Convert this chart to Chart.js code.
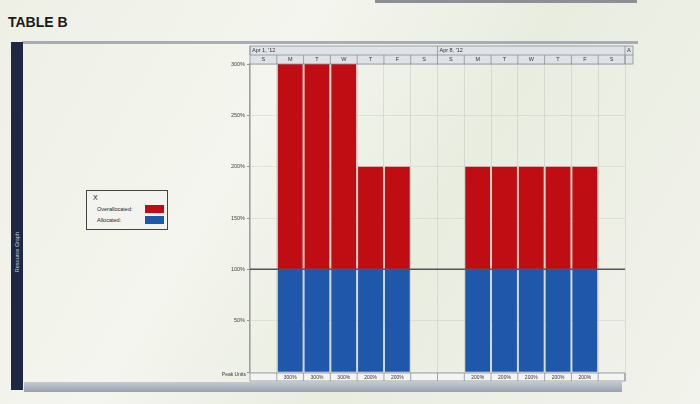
<!DOCTYPE html>
<html><head><meta charset="utf-8">
<script src="https://cdn.jsdelivr.net/npm/chart.js@4/dist/chart.umd.min.js"></script>
<style>
html,body{margin:0;padding:0;width:700px;height:404px;overflow:hidden;
 background:linear-gradient(120deg,#eef0e6 0%,#f4f5ee 35%,#e9ede0 60%,#f2f3ec 100%);font-family:"Liberation Sans",Arial,sans-serif;}
#title{position:absolute;left:8px;top:14px;font-family:"Liberation Sans Narrow","Liberation Sans",Arial;font-weight:bold;font-size:14px;color:#1a1a1a;}
#topbar{position:absolute;left:375px;top:0;width:262px;height:3px;background:#8c9096;}
#frame{position:absolute;left:22px;top:41px;width:616px;height:3px;background:#a9adb3;}
#navy{position:absolute;left:11px;top:42px;width:12px;height:348px;background:#1d2944;}
#navy span{position:absolute;left:6px;top:210px;transform:translate(-50%,-50%) rotate(-90deg);white-space:nowrap;color:#c9cfdb;font-size:5.5px;}
#scroll{position:absolute;left:24px;top:382px;width:598px;height:10px;background:linear-gradient(#c3c9d0,#9aa3ad);}
#legend{position:absolute;left:86px;top:190px;width:80px;height:38px;border:1.5px solid #444;background:#f3f4ef;font-size:5.5px;color:#222;}
#legend .x{position:absolute;left:6px;top:3px;font-size:7px;}
#legend .r{position:absolute;left:10px;white-space:nowrap;}
#legend .sw{position:absolute;left:58px;width:19px;height:8px;}
canvas{position:absolute;left:0;top:0;}
</style></head>
<body>
<div id="topbar"></div>
<div id="title">TABLE B</div>
<div id="frame"></div>
<div id="navy"><span>Resource Graph</span></div>
<div id="scroll"></div>
<div id="legend"><span class="x">X</span>
 <span class="r" style="top:15px">Overallocated:</span><span class="sw" style="top:14px;background:#c00d14"></span>
 <span class="r" style="top:26px">Allocated:</span><span class="sw" style="top:25px;background:#1f57ab"></span>
</div>
<canvas id="c" width="700" height="404"></canvas>
<script>
const days = ["S","M","T","W","T","F","S","S","M","T","W","T","F","S"];
const weeks = ["Apr 1, '12","Apr 8, '12"];
const allocated = [0,100,100,100,100,100,0,0,100,100,100,100,100,0];
const overallocated = [0,200,200,200,100,100,0,0,100,100,100,100,100,0];
const peakUnits = ["","300%","300%","300%","200%","200%","","","200%","200%","200%","200%","200%",""];
const yTicks = [0,50,100,150,200,250,300];
const maxUnits = 100;

const headerPlugin = {
  id:'header',
  afterDraw(chart){
    const ctx = chart.ctx, x = chart.scales.x, y = chart.scales.y, a = chart.chartArea;
    const n = days.length;
    const w = (x.getPixelForValue(1) - x.getPixelForValue(0));
    const left = a.left, right = a.right;
    ctx.save();
    const h1 = a.top-18, h2 = a.top-9;
    ctx.fillStyle = '#dfe3e8';
    ctx.fillRect(left, h1, right-left+8, 18);
    ctx.strokeStyle = '#8a9098'; ctx.lineWidth = 0.8;
    ctx.strokeRect(left, h1, right-left+8, 18);
    ctx.beginPath(); ctx.moveTo(left,h2); ctx.lineTo(right+8,h2); ctx.stroke();
    ctx.font = '5.5px "Liberation Sans", Arial'; ctx.fillStyle = '#333'; ctx.textBaseline='middle';
    for (let i=0;i<n;i++){
      const cx = x.getPixelForValue(i);
      ctx.textAlign='center';
      ctx.fillText(days[i], cx, h2+4.5);
      ctx.beginPath(); ctx.moveTo(cx+w/2, h2); ctx.lineTo(cx+w/2, a.top); ctx.stroke();
    }
    weeks.forEach((t,k)=>{
      const sx = x.getPixelForValue(k*7) - w/2;
      ctx.textAlign='left'; ctx.fillText(t, sx+2, h1+4.5);
      ctx.beginPath(); ctx.moveTo(sx, h1); ctx.lineTo(sx, h2); ctx.stroke();
    });
    ctx.beginPath(); ctx.moveTo(right, h1); ctx.lineTo(right, a.top); ctx.stroke();
    ctx.textAlign='left'; ctx.fillText('A', right+2, h1+4.5);
    const yl = y.getPixelForValue(maxUnits);
    ctx.strokeStyle = '#555'; ctx.lineWidth = 1.5;
    ctx.beginPath(); ctx.moveTo(left, yl); ctx.lineTo(right, yl); ctx.stroke();
    const py = a.bottom+1;
    ctx.fillStyle = '#f4f5f2';
    ctx.fillRect(left, py, right-left, 8);
    ctx.strokeStyle = '#8a9098'; ctx.lineWidth = 0.8;
    ctx.strokeRect(left, py, right-left, 8);
    ctx.fillStyle = '#333'; ctx.font = '5px "Liberation Sans", Arial';
    for (let i=0;i<n;i++){
      const cx = x.getPixelForValue(i);
      ctx.textAlign='center'; ctx.fillText(peakUnits[i], cx, py+4.5);
      ctx.beginPath(); ctx.moveTo(cx+w/2, py); ctx.lineTo(cx+w/2, py+8); ctx.stroke();
    }
    ctx.textAlign='right'; ctx.fillText('Peak Units', left-4, py+2);
    ctx.restore();
  }
};

new Chart(document.getElementById('c'), {
  type:'bar',
  data:{ labels: days.map((d,i)=>d+i),
    datasets:[
      {label:'Allocated', data: allocated, backgroundColor:'#1f57ab', barPercentage:1, categoryPercentage:0.93, stack:'s'},
      {label:'Overallocated', data: overallocated, backgroundColor:'#c00d14', barPercentage:1, categoryPercentage:0.93, stack:'s'}
    ]},
  options:{
    responsive:false, animation:false,
    layout:{padding:{left:200,top:64,right:75,bottom:32}},
    plugins:{legend:{display:false}, tooltip:{enabled:false}},
    scales:{
      x:{stacked:true, display:true, ticks:{display:false}, border:{display:false},
         grid:{offset:true, color:'rgba(150,155,150,0.35)', lineWidth:0.7, drawTicks:false}},
      y:{stacked:true, min:0, max:300,
         afterBuildTicks(s){ s.ticks = yTicks.map(v=>({value:v})); },
         afterFit(s){ s.width = 50; },
         border:{color:'#9aa0a8', width:1.5},
         grid:{color:'rgba(170,175,170,0.35)', lineWidth:0.7, tickLength:3, tickColor:'#666'},
         ticks:{padding:2, color:'#444', font:{size:5.5, family:'"Liberation Sans", Arial'},
           callback:(v)=> v===0 ? '' : v+'%'}}
    }
  },
  plugins:[headerPlugin]
});
</script>
</body></html>
